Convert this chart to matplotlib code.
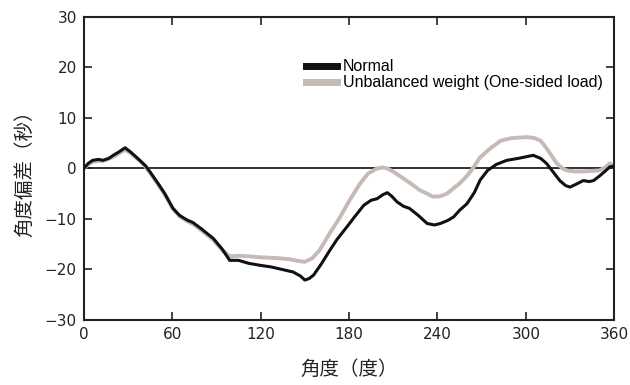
import numpy as np
import matplotlib.pyplot as plt
from matplotlib.lines import Line2D

plt.rcParams['font.family'] = ['DejaVu Sans', 'Noto Sans CJK JP']

# Normal (black)
ang_n = [0, 3, 6, 10, 13, 17, 20, 24, 28, 32, 38, 42, 45, 50, 55, 60.5, 65, 70, 74, 80,
         88, 94, 99, 105, 112, 120, 127, 133, 142, 147, 150, 153, 156, 161, 167, 172,
         178.5, 184, 190, 195, 199, 203, 206, 209, 212.5, 217, 221, 227, 233, 238, 242,
         247, 251, 255, 260, 265, 269, 274, 280, 287, 295, 300, 305, 310, 314, 318, 323,
         327, 330, 335, 339, 343, 346, 350, 354, 357, 360]
dev_n = [0, 1.0, 1.6, 1.8, 1.6, 2.0, 2.6, 3.3, 4.1, 3.2, 1.6, 0.5, -0.7, -2.8, -5.0, -7.9,
         -9.3, -10.2, -10.7, -12.0, -13.9, -16.0, -18.2, -18.2, -18.8, -19.2, -19.5, -19.9,
         -20.5, -21.3, -22.1, -21.8, -21.1, -19.0, -16.2, -14.0, -11.6, -9.5, -7.3, -6.3,
         -6.0, -5.2, -4.8, -5.5, -6.6, -7.5, -7.9, -9.3, -10.9, -11.2, -10.9, -10.3, -9.6,
         -8.3, -7.0, -4.8, -2.3, -0.4, 0.8, 1.6, 2.0, 2.3, 2.6, 2.0, 1.0, -0.5, -2.4, -3.4,
         -3.7, -3.0, -2.4, -2.6, -2.4, -1.5, -0.5, 0.3, 0.5]

# Unbalanced weight (grey)
ang_u = [0, 3, 6, 10, 13, 17, 20, 24, 28, 32, 38, 42, 45, 50, 55, 60, 65, 70, 75, 80, 88,
         94, 99, 105, 112, 120, 127, 133, 140, 145, 150, 155, 160, 167, 174, 181, 187.5,
         193, 199, 203, 206, 211, 217, 222, 228, 233, 237, 242, 246.5, 251, 255, 260, 264,
         269, 276, 283, 290, 295, 301, 306, 310, 314, 318, 321, 325, 328, 333, 339, 344,
         350, 354, 357, 360]
dev_u = [0, 0.8, 1.3, 1.5, 1.5, 1.9, 2.3, 3.0, 3.7, 3.0, 1.5, 0.3, -0.9, -3.0, -5.2, -7.8,
         -9.5, -10.4, -11.2, -12.3, -14.2, -16.2, -17.4, -17.3, -17.4, -17.6, -17.7, -17.8,
         -18.0, -18.3, -18.5, -17.8, -16.2, -12.8, -9.6, -6.0, -3.0, -1.0, 0, 0.2, 0, -0.8,
         -2.0, -3.0, -4.3, -5.0, -5.6, -5.5, -5.0, -3.9, -3.0, -1.5, 0, 2.2, 4.0, 5.5, 6.0,
         6.1, 6.2, 6.0, 5.5, 4.0, 2.3, 1.0, 0, -0.4, -0.6, -0.6, -0.5, -0.4, 0.2, 1.0, 0.3]

black = '#111111'
grey = '#c6bab6'

fig = plt.figure(figsize=(6.3, 3.85), dpi=100)
ax = fig.add_axes([0.133, 0.169, 0.842, 0.787])

ax.axhline(0, color='#222222', lw=1.3, zorder=1)
ax.plot(ang_u, dev_u, color=grey, lw=2.8, zorder=2)
ax.plot(ang_n, dev_n, color=black, lw=2.2, zorder=3)

ax.set_xlim(0, 360)
ax.set_ylim(-30, 30)
ax.set_xticks(np.arange(0, 361, 60))
ax.set_yticks(np.arange(-30, 31, 10))
ax.tick_params(direction='in', length=6, width=1.2, top=True, right=True,
               labelsize=11, colors='#222222', pad=5)
for s in ax.spines.values():
    s.set_linewidth(1.5)
    s.set_color('#222222')

ax.set_xlabel('角度（度）', fontsize=14, labelpad=12, color='#222222',
              family=['Noto Sans CJK JP', 'DejaVu Sans'])
ax.set_ylabel('角度偏差（秒）', fontsize=14, labelpad=7, color='#222222',
              family=['Noto Sans CJK JP', 'DejaVu Sans'])

handles = [Line2D([], [], color=black, lw=5), Line2D([], [], color=grey, lw=5)]
ax.legend(handles, ['Normal', 'Unbalanced weight (One-sided load)'],
          loc='upper left', bbox_to_anchor=(151, 21.6), bbox_transform=ax.transData,
          frameon=False, handlelength=1.95, handletextpad=0.35,
          labelspacing=0.05, borderpad=0, borderaxespad=0,
          prop={'family': 'Liberation Sans', 'size': 11.5})

fig.savefig('out.png', dpi=100)
